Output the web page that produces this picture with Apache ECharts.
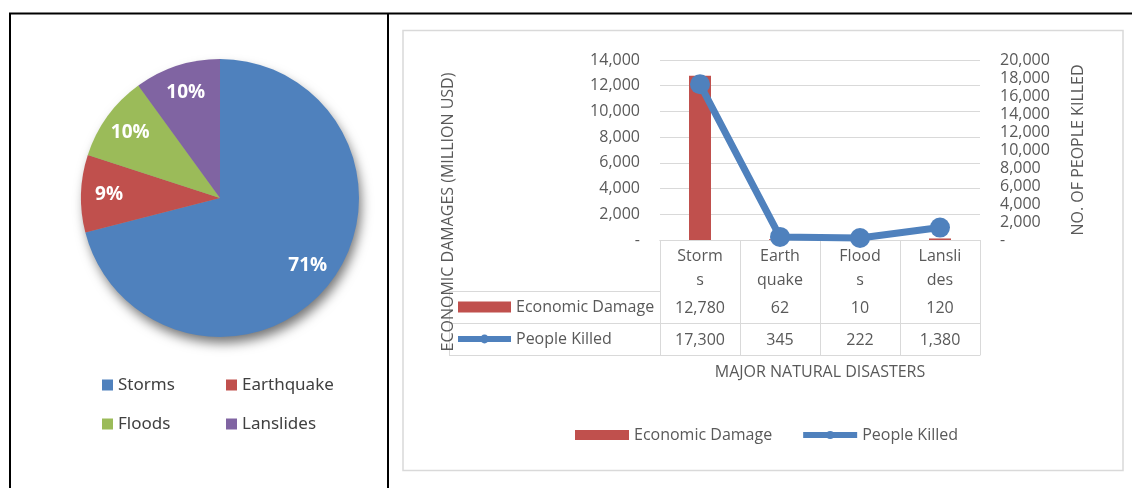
<!DOCTYPE html>
<html>
<head>
<meta charset="utf-8">
<script src="https://cdn.jsdelivr.net/npm/echarts@6/dist/echarts.min.js"></script>
<style>
  html, body { margin: 0; padding: 0; background: #ffffff; }
  #chart { width: 1132px; height: 488px; }
</style>
</head>
<body>
<div id="chart"></div>
<script>
// Share of major natural disasters (pie, percent)
const pieCategories = ['Storms', 'Earthquake', 'Floods', 'Lanslides'];
const pieShares = [71, 9, 10, 10];
const pieColors = ['#4f81bd', '#c0504d', '#9bbb59', '#8064a2'];

// Economic damage and casualties per disaster type (combo chart with data table)
const disasterCategories = ['Storms', 'Earthquake', 'Floods', 'Lanslides'];
const categoryTickLabels = ['Storm\ns', 'Earth\nquake', 'Flood\ns', 'Lansli\ndes'];
const economicDamage = [12780, 62, 10, 120];   // million USD
const peopleKilled = [17300, 345, 222, 1380];

const damageAxis = { min: 0, max: 14000, interval: 2000 };
const killedAxis = { min: 0, max: 20000, interval: 2000 };

const FONT = 'Open Sans';
const FS = 16;
const TEXT = '#595959';
const RULE = '#d9d9d9';
const fmt = v => Number(v).toLocaleString('en-US');
const tickFmt = v => (v === 0 ? '-' : fmt(v));

const chart = echarts.init(document.getElementById('chart'), null, { renderer: 'canvas' });

const tableAxis = (offset, values, showLabel) => ({
  type: 'category',
  gridIndex: 0,
  position: 'bottom',
  offset: offset,
  data: disasterCategories,
  axisLine: { show: true, lineStyle: { color: RULE, width: 1 } },
  axisTick: { show: false },
  axisLabel: {
    show: showLabel,
    interval: 0,
    margin: 7,
    fontFamily: FONT,
    fontSize: FS,
    lineHeight: 20,
    color: TEXT,
    formatter: (v, i) => (values ? fmt(values[i]) : '')
  },
  splitLine: { show: false }
});

const rule = (x1, y1, x2, y2) => ({
  type: 'line',
  shape: { x1, y1, x2, y2 },
  style: { stroke: RULE, lineWidth: 1 },
  silent: true
});

const option = {
  backgroundColor: '#ffffff',
  animation: false,
  textStyle: { fontFamily: FONT },
  graphic: [
    // outer frame
    { type: 'line', shape: { x1: 9, y1: 13.5, x2: 1132, y2: 13.5 }, style: { stroke: '#000', lineWidth: 2 }, silent: true },
    { type: 'line', shape: { x1: 10, y1: 13, x2: 10, y2: 488 }, style: { stroke: '#000', lineWidth: 2 }, silent: true },
    { type: 'line', shape: { x1: 388, y1: 13, x2: 388, y2: 488 }, style: { stroke: '#000', lineWidth: 2 }, silent: true },
    // combo chart panel
    { type: 'rect', shape: { x: 403, y: 30.5, width: 720, height: 440 }, style: { fill: 'none', stroke: RULE, lineWidth: 1.5 }, silent: true },
    // soft drop shadow under the pie
    {
      type: 'circle',
      shape: { cx: 220, cy: 198, r: 138 },
      style: { fill: '#9a9a9a', shadowBlur: 12, shadowOffsetX: 3, shadowOffsetY: 7, shadowColor: 'rgba(0,0,0,0.55)' },
      silent: true
    },
    // data table: legend column rules
    rule(449, 291.5, 660, 291.5),
    rule(449, 323.5, 660, 323.5),
    rule(449, 355.5, 660, 355.5),
    rule(449.5, 291, 449.5, 356),
    // left axis title
    {
      type: 'text',
      x: 448,
      y: 212,
      rotation: Math.PI / 2,
      z: 10,
      style: {
        text: 'ECONOMIC DAMAGES (MILLION USD)',
        fill: TEXT,
        font: FS + 'px "Open Sans"',
        textAlign: 'center',
        textVerticalAlign: 'middle',
        align: 'center',
        verticalAlign: 'middle'
      },
      silent: true
    }
  ],
  legend: [
    {
      data: ['Storms', 'Floods'],
      orient: 'vertical', left: 102, top: 375, padding: 0,
      itemWidth: 11, itemHeight: 11, itemGap: 19, icon: 'rect',
      selectedMode: false,
      textStyle: { fontFamily: 'Noto Sans', fontSize: 17, lineHeight: 20, color: '#404040' }
    },
    {
      data: ['Earthquake', 'Lanslides'],
      orient: 'vertical', left: 226, top: 375, padding: 0,
      itemWidth: 11, itemHeight: 11, itemGap: 19, icon: 'rect',
      selectedMode: false,
      textStyle: { fontFamily: 'Noto Sans', fontSize: 17, lineHeight: 20, color: '#404040' }
    },
    {
      data: [{ name: 'Economic Damage', icon: 'rect' }, { name: 'People Killed' }],
      orient: 'vertical', left: 455, top: 297, padding: 0,
      itemWidth: 53, itemHeight: 11, itemGap: 12,
      selectedMode: false,
      lineStyle: { width: 6 },
      textStyle: { fontFamily: FONT, fontSize: FS, lineHeight: 20, color: TEXT }
    },
    {
      data: [{ name: 'Economic Damage', icon: 'rect' }, { name: 'People Killed' }],
      orient: 'horizontal', left: 575, top: 425, padding: 0,
      itemWidth: 54, itemHeight: 10, itemGap: 28,
      selectedMode: false,
      lineStyle: { width: 6 },
      textStyle: { fontFamily: FONT, fontSize: FS, lineHeight: 20, color: TEXT }
    }
  ],
  grid: {
    left: 660, right: 152, top: 60, bottom: 248,
    containLabel: false,
    outerBoundsMode: 'none'
  },
  xAxis: [
    {
      type: 'category',
      gridIndex: 0,
      position: 'bottom',
      data: disasterCategories,
      name: 'MAJOR NATURAL DISASTERS',
      nameLocation: 'middle',
      nameGap: 124,
      nameTextStyle: { fontFamily: FONT, fontSize: FS, color: TEXT },
      axisLine: { show: true, lineStyle: { color: RULE, width: 1 } },
      axisTick: { show: true, length: 115, interval: 0, alignWithLabel: false, lineStyle: { color: RULE, width: 1 } },
      axisLabel: {
        interval: 0,
        margin: 4,
        fontFamily: FONT,
        fontSize: FS,
        lineHeight: 24,
        color: TEXT,
        formatter: (v, i) => categoryTickLabels[i]
      },
      splitLine: { show: false }
    },
    tableAxis(51, economicDamage, true),
    tableAxis(83, peopleKilled, true),
    tableAxis(115, null, false)
  ],
  yAxis: [
    {
      type: 'value',
      min: damageAxis.min, max: damageAxis.max, interval: damageAxis.interval,
      position: 'left',
      axisLine: { show: false },
      axisTick: { show: false },
      axisLabel: { margin: 20, fontFamily: FONT, fontSize: FS, color: TEXT, formatter: tickFmt },
      splitLine: { show: true, lineStyle: { color: RULE, width: 1 } }
    },
    {
      type: 'value',
      min: killedAxis.min, max: killedAxis.max, interval: killedAxis.interval,
      position: 'right',
      name: 'NO. OF PEOPLE KILLED',
      nameLocation: 'middle',
      nameGap: 90,
      nameRotate: 90,
      nameTextStyle: { fontFamily: FONT, fontSize: FS, color: TEXT },
      axisLine: { show: false },
      axisTick: { show: false },
      axisLabel: { margin: 20, fontFamily: FONT, fontSize: FS, color: TEXT, formatter: tickFmt },
      splitLine: { show: false }
    }
  ],
  series: [
    {
      name: 'Economic Damage',
      type: 'bar',
      xAxisIndex: 0,
      yAxisIndex: 0,
      data: economicDamage,
      barWidth: 22,
      itemStyle: { color: '#c0504d' },
      emphasis: { disabled: true }
    },
    {
      name: 'People Killed',
      type: 'line',
      xAxisIndex: 0,
      yAxisIndex: 1,
      data: peopleKilled,
      symbol: 'circle',
      symbolSize: 20,
      lineStyle: { color: '#4f81bd', width: 7 },
      itemStyle: { color: '#4f81bd' },
      emphasis: { disabled: true },
      z: 3
    },
    {
      name: 'Share',
      type: 'pie',
      center: [220, 198],
      radius: 139,
      startAngle: 90,
      clockwise: true,
      avoidLabelOverlap: false,
      data: pieCategories.map((n, i) => ({ name: n, value: pieShares[i], itemStyle: { color: pieColors[i] } })),
      itemStyle: { borderWidth: 0 },
      label: { show: false },
      labelLine: { show: false },
      emphasis: { disabled: true },
      silent: true
    },
    {
      // transparent ring that carries the slice labels further out from the centre
      name: 'ShareLabels',
      type: 'pie',
      center: [220, 198],
      radius: 216,
      startAngle: 90,
      clockwise: true,
      avoidLabelOverlap: false,
      data: pieCategories.map((n, i) => ({ name: n, value: pieShares[i] })),
      itemStyle: { color: 'rgba(0,0,0,0)', borderWidth: 0 },
      label: {
        show: true,
        position: 'inside',
        color: '#ffffff',
        fontFamily: FONT,
        fontWeight: 'bold',
        fontSize: 19,
        formatter: p => Math.round(p.percent) + '%'
      },
      labelLine: { show: false },
      emphasis: { disabled: true },
      silent: true,
      z: 4
    }
  ]
};

chart.setOption(option);
</script>
</body>
</html>
